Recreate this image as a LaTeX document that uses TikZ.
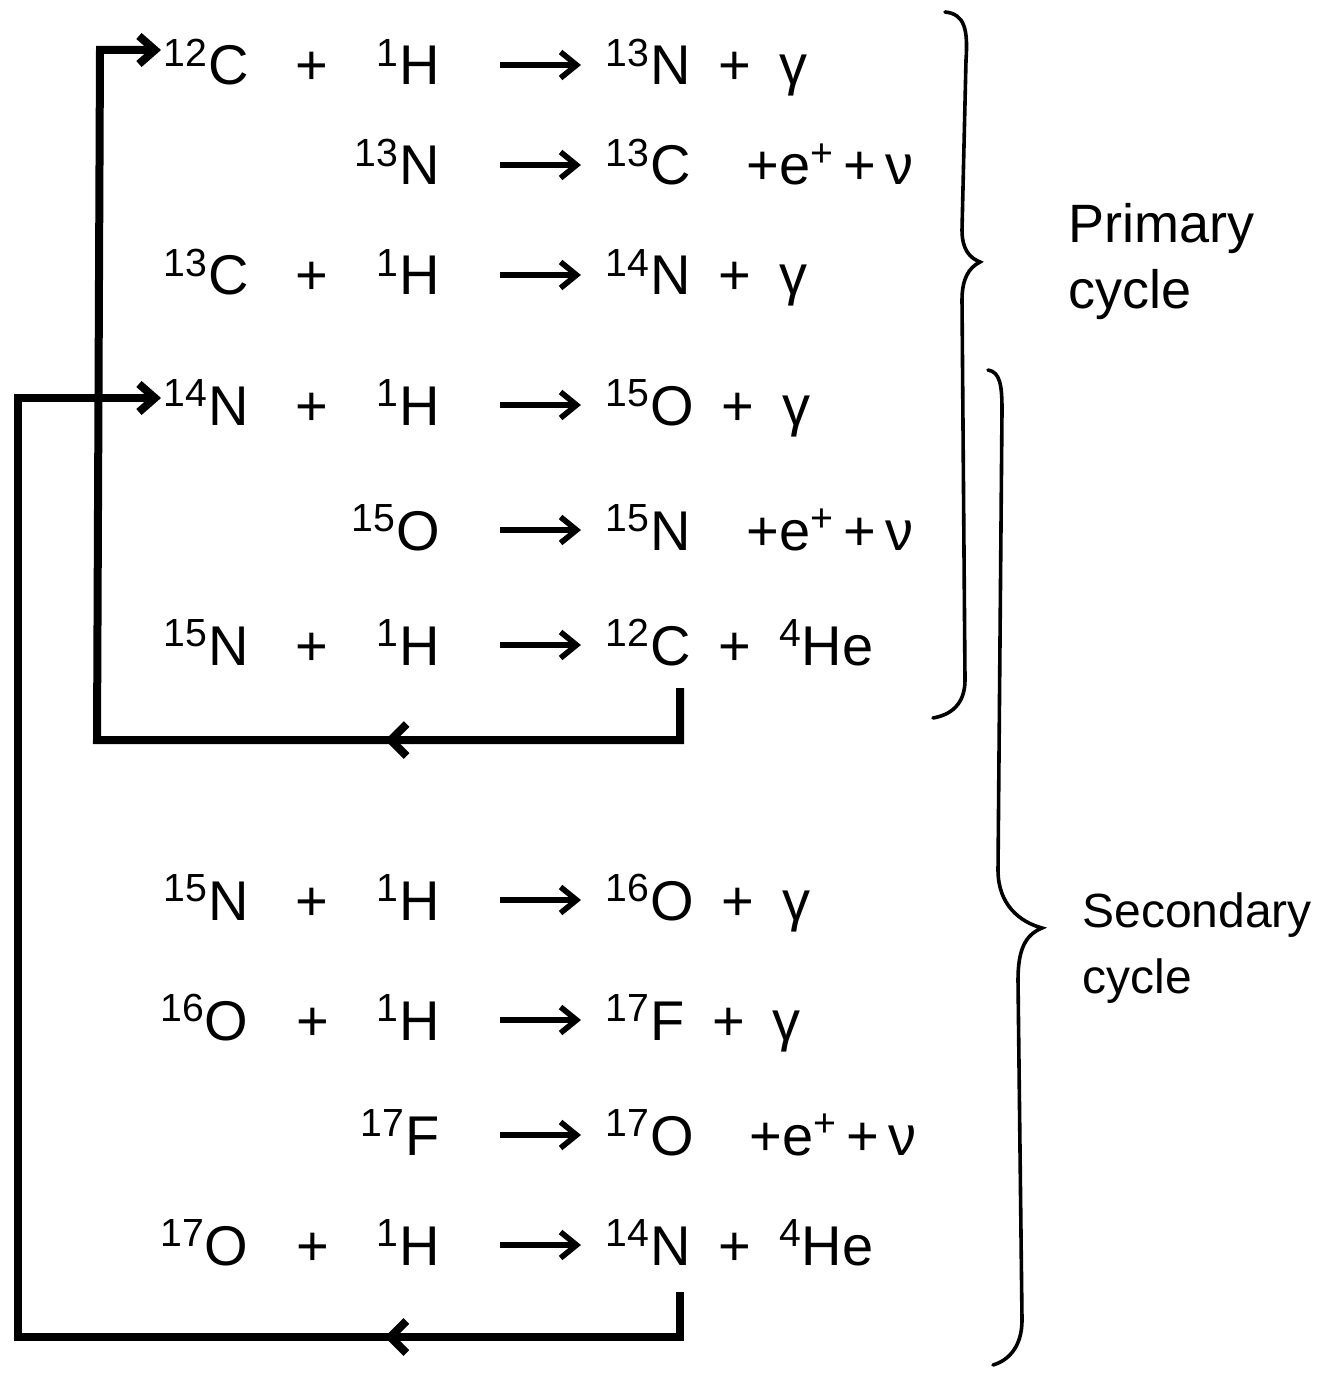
\documentclass[tikz,border=0pt]{standalone}
\usepackage{fontspec}
\setmainfont{Liberation Sans}
\usetikzlibrary{decorations.markings,arrows.meta}
\newcommand{\iso}[2]{\textsuperscript{#1}#2}
\newcommand{\gp}{\hspace{0.85em}}
\begin{document}
\begin{tikzpicture}[x=0.5pt,y=-0.5pt,
  txt/.style={font=\fontsize{28}{32}\selectfont, inner sep=0pt},
  lhs/.style={txt, anchor=base east},
  rhs/.style={txt, anchor=base west},
  react/.style={-{Straight Barb[length=8pt,width=13pt]}, line width=2.8pt, shorten <=30pt, shorten >=12pt},
  loopline/.style={line width=4pt, line join=miter,
     -{Straight Barb[length=8pt,width=14pt]}, shorten >=1pt},
  midarrow/.style={postaction=decorate, decoration={markings,
     mark=at position #1 with {\arrow{Straight Barb[length=8pt,width=16pt]}}}},
  bracestyle/.style={line width=1.8pt, line cap=round},
  lbl/.style={align=left, anchor=west, inner sep=0pt}]
\useasboundingbox (0,0) rectangle (1335,1374);

% reactions: baseline = visual centre + 20
\node[lhs] (l1) at (440,85) {\iso{12}{C}\gp+\gp\iso{1}{H}};
\node[rhs] (r1) at (605,85) {\iso{13}{N}\enspace+\enspace γ};
\node[lhs] (l2) at (440,185) {\iso{13}{N}};
\node[rhs] (r2) at (605,185) {\iso{13}{C}\quad+e\textsuperscript{+}\,+\,ν};
\node[lhs] (l3) at (440,295) {\iso{13}{C}\gp+\gp\iso{1}{H}};
\node[rhs] (r3) at (605,295) {\iso{14}{N}\enspace+\enspace γ};
\node[lhs] (l4) at (440,425) {\iso{14}{N}\gp+\gp\iso{1}{H}};
\node[rhs] (r4) at (605,425) {\iso{15}{O}\enspace+\enspace γ};
\node[lhs] (l5) at (440,550) {\iso{15}{O}};
\node[rhs] (r5) at (605,550) {\iso{15}{N}\quad+e\textsuperscript{+}\,+\,ν};
\node[lhs] (l6) at (440,665) {\iso{15}{N}\gp+\gp\iso{1}{H}};
\node[rhs] (r6) at (605,665) {\iso{12}{C}\enspace+\enspace\iso{4}{He}};
\node[lhs] (l7) at (440,920) {\iso{15}{N}\gp+\gp\iso{1}{H}};
\node[rhs] (r7) at (605,920) {\iso{16}{O}\enspace+\enspace γ};
\node[lhs] (l8) at (440,1040) {\iso{16}{O}\gp+\gp\iso{1}{H}};
\node[rhs] (r8) at (605,1040) {\iso{17}{F}\enspace+\enspace γ};
\node[lhs] (l9) at (440,1155) {\iso{17}{F}};
\node[rhs] (r9) at (605,1155) {\iso{17}{O}\quad+e\textsuperscript{+}\,+\,ν};
\node[lhs] (l10) at (440,1265) {\iso{17}{O}\gp+\gp\iso{1}{H}};
\node[rhs] (r10) at (605,1265) {\iso{14}{N}\enspace+\enspace\iso{4}{He}};

\foreach \i in {1,...,10}{
  \draw[react] ([yshift=10pt]l\i.base east) -- ([yshift=10pt]l\i.base east -| r\i.base west);
}

% loops
\coordinate (d1) at (680,688);
\coordinate (b1) at (97,740);
\coordinate (t1) at (100,50);
\draw[loopline, midarrow=0.25] (d1) |- (b1) -- (t1) -- (t1 -| l1.west);

\coordinate (d2) at (680,1292);
\coordinate (b2) at (18,1337);
\coordinate (t2) at (18,398);
\draw[loopline, midarrow=0.19] (d2) |- (b2) -- (t2) -- (t2 -| l4.west);

% braces
\draw[bracestyle] (945,12) .. controls (965,14) and (968,30) .. (966,60)
  -- (962,230) .. controls (962,250) and (970,258) .. (980,262)
  .. controls (968,268) and (962,280) .. (962,300)
  -- (965,680) .. controls (965,705) and (950,715) .. (933,718);
\draw[bracestyle] (988,370) .. controls (1000,372) and (1002,385) .. (1002,410)
  -- (998,870) .. controls (998,905) and (1020,922) .. (1042,928)
  .. controls (1025,935) and (1018,950) .. (1018,980)
  -- (1022,1320) .. controls (1022,1345) and (1010,1360) .. (993,1365);

\node[lbl, font=\fontsize{27}{33}\selectfont] (p) at (1068,262) {Primary\\cycle};
\node[lbl, font=\fontsize{24}{33}\selectfont] (s) at (1082,948) {Secondary\\cycle};
\end{tikzpicture}
\end{document}
